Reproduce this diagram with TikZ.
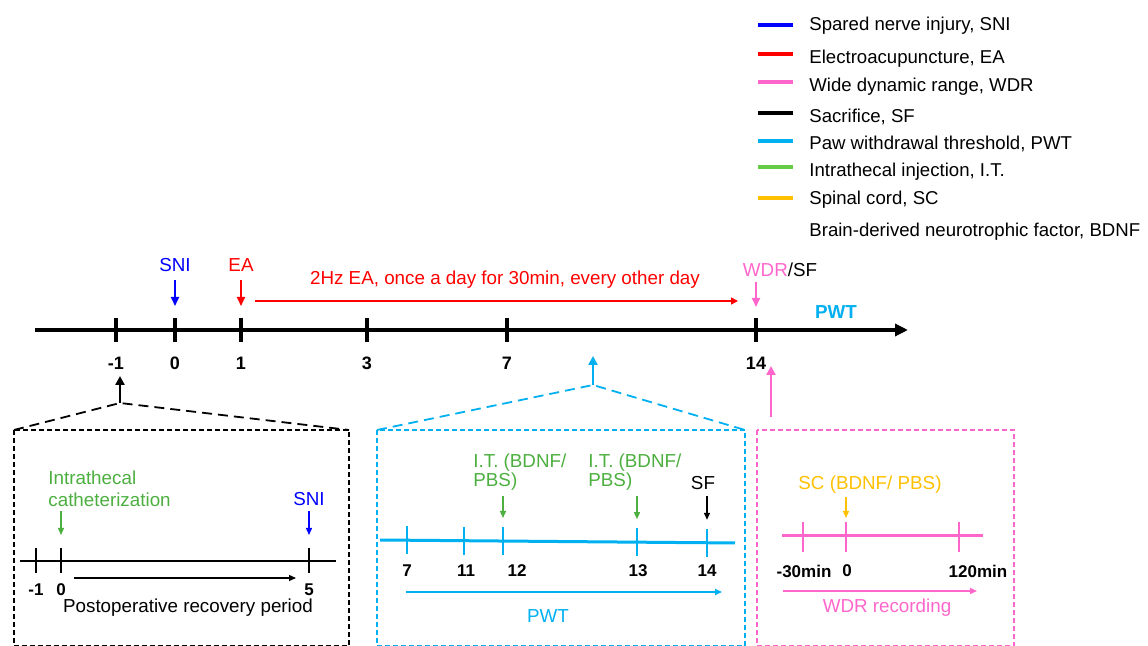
\documentclass[tikz,border=0pt]{standalone}
\usepackage{fontspec}
\setmainfont{Liberation Sans}
\usetikzlibrary{positioning, arrows.meta, calc}

\definecolor{sniblue}{HTML}{0000FF}
\definecolor{eared}{HTML}{FF0000}
\definecolor{wdrpink}{HTML}{FF66CC}
\definecolor{pwtcyan}{HTML}{00B0F0}
\definecolor{itgreen}{HTML}{4CAF3F}
\definecolor{leggreen}{HTML}{66CC44}
\definecolor{scorange}{HTML}{FFC000}

\begin{document}
\begin{tikzpicture}[x=0.5pt, y=-0.5pt,
        axis/.style={line width=2pt},
        axistick/.style={line width=1.8pt},
        legline/.style={line width=2pt},
        legtext/.style={anchor=west, inner sep=0pt, font=\fontsize{9.3}{11}\selectfont},
        lbl/.style={inner sep=0pt, font=\fontsize{9.4}{11}\selectfont},
        daylbl/.style={inner sep=0pt, font=\fontsize{9}{10}\selectfont\bfseries},
        smalllbl/.style={inner sep=0pt, font=\fontsize{8.5}{10}\selectfont\bfseries},
        evarrow/.style={line width=1pt, -{Triangle[length=4.5pt, width=4pt]}},
        subarrow/.style={line width=0.7pt, -{Triangle[length=3.5pt, width=3pt]}},
        uparrow/.style={line width=1.2pt, -{Triangle[length=4.5pt, width=4.5pt]}},
        zoombox/.style={line width=0.7pt, dash pattern=on 2.5pt off 1.5pt},
        roof/.style={line width=0.9pt, dash pattern=on 5pt off 3pt}
    ]

    \useasboundingbox (0,0) rectangle (1148,646);

    % Legende
    \foreach \y/\ty/\col/\txt in {25/26/sniblue/{Spared nerve injury, SNI}, 54/59/eared/{Electroacupuncture, EA}, 82/87/wdrpink/{Wide dynamic range, WDR}, 113/117/black/{Sacrifice, SF}, 141/144/pwtcyan/{Paw withdrawal threshold, PWT}, 167/172/leggreen/{Intrathecal injection, I.T.}, 198/200/scorange/{Spinal cord, SC}} {
        \draw[legline, \col] (758,\y) -- (793,\y);
        \node[legtext] (leg\y) at (809,\ty) {\txt};
    }
    \node[legtext] (legbdnf) at (809,232) {Brain-derived neurotrophic factor, BDNF};

    % Zeitachse
    \coordinate (axstart) at (35,330);
    \coordinate (axend) at (908,330);
    \draw[axis, -{Triangle[length=6.5pt, width=6pt]}] (axstart) -- (axend);
    \foreach \x/\d [count=\i] in {116/-1, 175/0, 241/1, 367/3, 507/7, 756/14} {
        \coordinate (day\i) at (\x,330);
        \draw[axistick] (\x,318) -- (\x,342);
        \node[daylbl] (daylbl\i) at (\x,363) {\d};
    }

    \node[lbl, text=sniblue] (sni) at (175,265) {SNI};
    \draw[evarrow, sniblue] ([yshift=-4pt]sni.south) -- ([yshift=12pt]day2);
    \node[lbl, text=eared] (ea) at (241,265) {EA};
    \draw[evarrow, eared] ([yshift=-4pt]ea.south) -- ([yshift=12pt]day3);

    \node[lbl, text=eared] (eatext) at (505,280) {2Hz EA, once a day for 30min, every other day};
    \coordinate (eastart) at (255,301);
    \coordinate (eaend) at (738,301);
    \draw[eared, line width=0.8pt, -{Triangle[length=3.5pt, width=3.5pt]}] (eastart) -- (eaend);

    \node[lbl] (wdrsf) at (780,270) {\textcolor{wdrpink}{WDR}/SF};
    \coordinate (wdrtop) at (wdrsf.south -| day6);
    \draw[evarrow, wdrpink] ([yshift=-2.5pt]wdrtop) -- ([yshift=11.5pt]day6);
    \node[lbl, font=\fontsize{9.4}{11}\selectfont\bfseries, text=pwtcyan] (pwttop) at (836,312) {PWT};

    % Erholung
    \coordinate (apex1) at (120,403);
    \coordinate (tip1) at (120,376);
    \coordinate (box1tl) at (14,430);
    \coordinate (box1tr) at (349,430);
    \coordinate (box1br) at (349,646);
    \draw[uparrow] (apex1) -- (tip1);
    \draw[roof] (box1tl) -- (apex1) -- (box1tr);
    \draw[zoombox] (box1tl) rectangle (box1br);

    \coordinate (p1a) at (20,561);
    \coordinate (p1b) at (336,561);
    \draw[line width=1.1pt] (p1a) -- (p1b);
    \foreach \x/\d [count=\i] in {36/-1, 61/0, 309/5} {
        \coordinate (pre\i) at (\x,561);
        \draw[line width=1pt] (\x,548) -- (\x,573);
        \node[smalllbl] (prelbl\i) at (\x,590) {\d};
    }
    \coordinate (rec0) at (74,578);
    \coordinate (rec1) at (296,578);
    \draw[subarrow, line width=0.6pt] (rec0) -- (rec1);
    \node[lbl] (recovery) at (188,608) {Postoperative recovery period};

    \node[lbl, text=itgreen, align=left, anchor=north west] (cath) at (48,470) {Intrathecal\\catheterization};
    \coordinate (cathtop) at (61,511);
    \draw[subarrow, itgreen] (cathtop) -- ([yshift=13pt]pre2);
    \node[lbl, text=sniblue] (sni2) at (309,499) {SNI};
    \draw[subarrow, sniblue] ([yshift=-2.5pt]sni2.south) -- ([yshift=13pt]pre3);

    % PWT
    \coordinate (apex2) at (593,385);
    \coordinate (tip2) at (593,356);
    \coordinate (box2tl) at (377,430);
    \coordinate (box2tr) at (745,430);
    \coordinate (box2br) at (745,646);
    \draw[uparrow, pwtcyan] (apex2) -- (tip2);
    \draw[roof, pwtcyan] (box2tl) -- (apex2) -- (box2tr);
    \draw[zoombox, pwtcyan] (box2tl) rectangle (box2br);

    \coordinate (p2a) at (380,540);
    \coordinate (p2b) at (735,543);
    \draw[pwtcyan, line width=1.5pt] (p2a) -- (p2b);
    \foreach \x/\y/\lx/\d [count=\i] in {407/540.2/407/7, 464/540.7/466/11, 503/541/517/12, 637/542.2/638/13, 707/542.8/707/14} {
        \coordinate (itd\i) at (\x,\y);
        \draw[pwtcyan, line width=1pt] (\x,\y-14) -- (\x,\y+14);
        \node[smalllbl] (itlbl\i) at (\lx,571) {\d};
    }
    \node[lbl, text=itgreen, align=left, anchor=north west, font=\fontsize{9.4}{9.7}\selectfont] (it1) at (473,453) {I.T. (BDNF/\\PBS)};
    \node[lbl, text=itgreen, align=left, anchor=north west, font=\fontsize{9.4}{9.7}\selectfont] (it2) at (588,453) {I.T. (BDNF/\\PBS)};
    \coordinate (it1top) at (503,496);
    \coordinate (it2top) at (637,496);
    \draw[subarrow, itgreen] (it1top) -- ([yshift=11.5pt]itd3);
    \draw[subarrow, itgreen] (it2top) -- ([yshift=11.5pt]itd4);
    \node[lbl] (sf) at (703,483) {SF};
    \coordinate (sftop) at (707,496);
    \draw[subarrow] (sftop) -- ([yshift=11.5pt]itd5);

    \coordinate (pwt0) at (406,592);
    \coordinate (pwt1) at (722,592);
    \draw[subarrow, pwtcyan, line width=0.8pt] (pwt0) -- (pwt1);
    \node[lbl, text=pwtcyan] (pwtlbl) at (548,616) {PWT};

    % WDR
    \coordinate (wdrbase) at (771,417);
    \coordinate (tip3) at (771,366);
    \coordinate (box3tl) at (757,430);
    \coordinate (box3br) at (1014,646);
    \draw[uparrow, wdrpink] (wdrbase) -- (tip3);
    \draw[zoombox, wdrpink] (box3tl) rectangle (box3br);

    \coordinate (p3a) at (782,536);
    \coordinate (p3b) at (983,536);
    \draw[wdrpink, line width=1.5pt] (p3a) -- (p3b);
    \foreach \x/\lx/\d [count=\i] in {803/804/-30min, 846/847/0, 959/978/120min} {
        \coordinate (rec\i) at (\x,536);
        \draw[wdrpink, line width=1pt] (\x,522) -- (\x,552);
        \node[smalllbl] (reclbl\i) at (\lx,571) {\d};
    }
    \node[lbl, text=scorange] (sc) at (870,485) {SC (BDNF/ PBS)};
    \coordinate (sctop) at (846,497);
    \draw[subarrow, scorange] (sctop) -- ([yshift=9pt]rec2);

    \coordinate (wdr0) at (783,591);
    \coordinate (wdr1) at (977,591);
    \draw[subarrow, wdrpink, line width=0.8pt] (wdr0) -- (wdr1);
    \node[lbl, text=wdrpink] (wdrlbl) at (887,608) {WDR recording};

\end{tikzpicture}
\end{document}
